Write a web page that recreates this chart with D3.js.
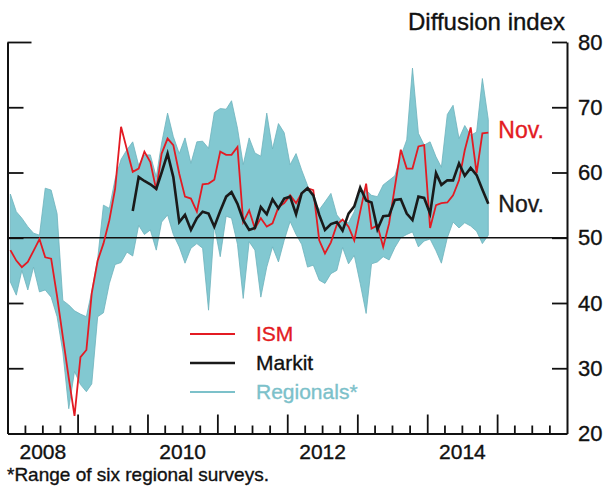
<!DOCTYPE html>
<html>
<head>
<meta charset="utf-8">
<script src="https://cdn.jsdelivr.net/npm/d3@7"></script>
<style>
  body { margin: 0; background: white; }
  text { font-family: "Liberation Sans", Arial, Helvetica, sans-serif; stroke-width: 0.35px; }
</style>
</head>
<body>
<div id="chart"></div>
<script>
const WIDTH = 604, HEIGHT = 487;
const PLOT = { LEFT: 7.5, RIGHT: 567, TOP: 42, BOTTOM: 433.5 };

// monthly data, Jan 2008 .. Nov 2014
const firstMonth = new Date(2008, 0, 1);
const lastMonth = new Date(2014, 10, 1);
const markitFirst = new Date(2009, 9, 1);

const ism = [
  48.1, 46.5, 45.5, 46.3, 48.0, 49.8, 47.0, 46.8, 41.0, 34.8, 28.5, 22.7,
  31.7, 32.8, 41.5, 46.5, 49.1, 52.7, 57.5, 67.0, 63.5, 60.1, 60.6, 63.2,
  61.6, 57.3, 62.9, 65.2, 64.2, 59.8, 56.3, 56.0, 54.0, 58.2, 58.3, 58.9,
  63.2, 62.7, 62.7, 63.9, 52.4, 54.2, 51.4, 53.0, 51.7, 52.2, 54.7, 55.3,
  56.5, 55.3, 56.8, 57.6, 57.3, 49.6, 47.6, 49.3, 52.0, 52.8, 51.7, 49.6,
  54.0, 58.3, 51.4, 51.9, 48.6, 52.2, 57.8, 63.5, 60.6, 60.6, 64.0, 64.2,
  51.5, 55.0, 55.3, 55.4, 56.5, 58.8, 63.4, 66.9, 59.9, 66.0, 66.1
];

// Oct 2009 .. Nov 2014
const markit = [
  54.1, 59.3, 58.7,
  58.2, 57.5, 60.0, 62.9, 59.3, 52.4, 53.5, 51.2, 53.0, 54.0, 53.7, 51.7,
  54.1, 56.3, 57.0, 55.2, 52.7, 51.2, 51.5, 54.7, 53.6, 55.9, 54.5, 56.0,
  56.3, 53.6, 56.8, 57.6, 56.5, 53.5, 51.2, 52.1, 52.4, 51.1, 53.7, 54.8,
  57.7, 55.7, 55.4, 51.3, 53.3, 53.4, 55.8, 55.9, 53.7, 52.7, 56.3, 56.1,
  53.7, 59.9, 58.1, 58.8, 58.8, 61.4, 59.5, 60.7, 59.6, 57.4, 55.2
];

const regionalsHigh = [
  56.7, 54.0, 53.0, 51.7, 50.7, 50.4, 57.6, 57.3, 53.7, 40.4, 39.7, 38.8,
  38.3, 37.9, 41.8, 46.8, 55.0, 54.5, 59.0, 62.0, 63.5, 64.7, 61.1, 62.7,
  62.7, 59.3, 64.5, 69.1, 65.5, 62.9, 65.3, 61.4, 64.7, 64.8, 63.7, 69.2,
  69.8, 69.7, 71.0, 66.8, 61.2, 65.3, 63.0, 62.5, 69.1, 63.6, 67.5, 66.1,
  61.2, 62.9, 60.4, 58.0, 56.0, 54.3, 55.5, 56.8, 53.5, 52.4, 52.3, 54.0,
  57.0, 57.3, 56.5, 56.3, 58.1, 58.8, 59.5, 62.5, 65.0, 76.0, 66.0, 64.2,
  64.7, 62.4, 60.8, 68.9, 70.3, 65.2, 67.2, 65.7, 66.2, 74.4, 68.1
];

const regionalsLow = [
  43.2, 41.2, 45.0, 42.0, 45.5, 41.7, 42.0, 40.9, 37.9, 32.5, 23.8, 29.5,
  27.5, 26.4, 27.6, 37.9, 38.5, 43.0, 45.9, 46.2, 47.8, 47.2, 51.9, 50.5,
  51.2, 48.1, 52.4, 53.5, 50.5, 48.6, 46.1, 48.4, 49.1, 48.4, 38.9, 51.8,
  47.1, 53.3, 53.0, 49.0, 40.7, 49.4, 48.1, 40.9, 45.5, 48.6, 46.3, 49.6,
  52.5, 50.5, 49.0, 45.5, 45.8, 43.5, 43.0, 44.5, 45.0, 48.5, 46.0, 47.3,
  43.0, 38.4, 46.0, 46.3, 47.1, 46.6, 48.5, 50.0, 50.5, 50.9, 48.6, 49.5,
  49.8, 48.0, 46.1, 50.0, 52.4, 51.5, 52.3, 51.8, 51.0, 49.1, 50.4
];

const yTicks = [20, 30, 40, 50, 60, 70, 80];
const yearLabels = [2008, 2010, 2012, 2014];

const COLORS = { ism: "#e31b23", markit: "#1a1a1a", band: "#82c8d1", bandEdge: "#6db2bc", regText: "#7cc1ca" };

const months = d3.timeMonth.range(firstMonth, d3.timeMonth.offset(lastMonth, 1));
const markitMonths = d3.timeMonth.range(markitFirst, d3.timeMonth.offset(lastMonth, 1));
const midMonth = (d) => new Date(d.getFullYear(), d.getMonth(), 16);

const data = months.map((m, i) => ({ date: midMonth(m), ism: ism[i], hi: regionalsHigh[i], lo: regionalsLow[i] }));
const markitData = markitMonths.map((m, i) => ({ date: midMonth(m), v: markit[i] }));

const svg = d3.select("#chart").append("svg")
  .attr("width", WIDTH).attr("height", HEIGHT)
  .style("background", "white");

const x = d3.scaleTime()
  .domain([new Date(2008, 0, 1), new Date(2016, 0, 1)])
  .range([PLOT.LEFT, PLOT.RIGHT]);
const y = d3.scaleLinear().domain([20, 80]).range([PLOT.BOTTOM, PLOT.TOP]);

// regional band
const area = d3.area().x((d) => x(d.date)).y0((d) => y(d.lo)).y1((d) => y(d.hi));
svg.append("path").datum(data)
  .attr("d", area)
  .attr("fill", COLORS.band)
  .attr("stroke", COLORS.bandEdge)
  .attr("stroke-width", 0.8);

// 50 line
svg.append("line")
  .attr("x1", PLOT.LEFT).attr("x2", PLOT.RIGHT)
  .attr("y1", y(50)).attr("y2", y(50))
  .attr("stroke", "#111").attr("stroke-width", 1.3);

const line = d3.line().x((d) => x(d.date));

svg.append("path").datum(data)
  .attr("d", line.y((d) => y(d.ism)))
  .attr("fill", "none").attr("stroke", COLORS.ism).attr("stroke-width", 1.8)
  .attr("stroke-linejoin", "miter");

svg.append("path").datum(markitData)
  .attr("d", line.y((d) => y(d.v)))
  .attr("fill", "none").attr("stroke", COLORS.markit).attr("stroke-width", 2.6)
  .attr("stroke-linejoin", "miter");

// axes
const quarters = d3.timeMonth.every(3).range(new Date(2008, 0, 1), new Date(2016, 0, 2));
const minorQ = quarters.filter((d) => d.getMonth() !== 0);
const years = d3.timeYear.range(new Date(2009, 0, 1), new Date(2016, 0, 1));

svg.append("g")
  .attr("transform", `translate(0, ${PLOT.BOTTOM})`)
  .call(d3.axisBottom(x).tickValues(minorQ).tickSize(-8).tickSizeOuter(0).tickFormat(""));
const bottomMajor = svg.append("g")
  .attr("transform", `translate(0, ${PLOT.BOTTOM})`)
  .call(d3.axisBottom(x).tickValues(years).tickSize(-19).tickFormat(""));
bottomMajor.select(".domain").remove();

const yearAxis = svg.append("g")
  .attr("transform", `translate(0, ${PLOT.BOTTOM})`)
  .call(d3.axisBottom(x)
    .tickValues(yearLabels.map((yr) => new Date(yr, 6, 1)))
    .tickSize(0).tickPadding(11)
    .tickFormat(d3.timeFormat("%Y")));
yearAxis.select(".domain").remove();
yearAxis.selectAll("text").attr("font-size", 21).attr("fill", "#111").attr("stroke", "#111");

const leftAxis = svg.append("g")
  .attr("transform", `translate(${PLOT.LEFT}, 0)`)
  .call(d3.axisLeft(y).tickValues(yTicks.filter((t) => t > 20)).tickSize(-16).tickSizeOuter(0).tickFormat(""));
leftAxis.selectAll(".tick line").filter((d) => d === 80).attr("x2", 24);

const rightAxis = svg.append("g")
  .attr("transform", `translate(${PLOT.RIGHT}, 0)`)
  .call(d3.axisRight(y).tickValues(yTicks).tickSize(-15).tickSizeOuter(0).tickPadding(11));
rightAxis.selectAll("text").attr("font-size", 22).attr("fill", "#111").attr("stroke", "#111");
rightAxis.selectAll(".tick").filter((d) => d === 20).select("line").remove();

svg.selectAll(".domain, .tick line").attr("stroke", "#111").attr("stroke-width", 2);
svg.selectAll(".tick line").attr("stroke-width", 1.8);

svg.append("text")
  .attr("x", 565).attr("y", 30)
  .attr("text-anchor", "end")
  .attr("font-size", 24).attr("fill", "#111").attr("stroke", "#111")
  .text("Diffusion index");

// end labels
const lastIsm = data[data.length - 1];
const lastMarkit = markitData[markitData.length - 1];
svg.append("text")
  .attr("x", x(lastIsm.date) + 10).attr("y", y(lastIsm.ism) - 3)
  .attr("dy", "0.35em").attr("font-size", 23)
  .attr("fill", COLORS.ism).attr("stroke", COLORS.ism)
  .text("Nov.");
svg.append("text")
  .attr("x", x(lastMarkit.date) + 10).attr("y", y(lastMarkit.v))
  .attr("dy", "0.35em").attr("font-size", 23)
  .attr("fill", COLORS.markit).attr("stroke", COLORS.markit)
  .text("Nov.");

// legend
const legend = [
  { label: "ISM", color: COLORS.ism, width: 2, text: COLORS.ism },
  { label: "Markit", color: COLORS.markit, width: 2.6, text: "#111" },
  { label: "Regionals*", color: COLORS.regText, width: 2, text: COLORS.regText }
];
const lg = svg.append("g").attr("transform", "translate(190, 334)");
legend.forEach((d, i) => {
  lg.append("line")
    .attr("x1", 0).attr("x2", 45)
    .attr("y1", i * 29).attr("y2", i * 29)
    .attr("stroke", d.color).attr("stroke-width", d.width);
  lg.append("text")
    .attr("x", 66).attr("y", i * 29)
    .attr("dy", "0.35em").attr("font-size", 21)
    .attr("fill", d.text).attr("stroke", d.text)
    .text(d.label);
});

svg.append("text")
  .attr("x", 7).attr("y", 481)
  .attr("font-size", 19).attr("fill", "#111").attr("stroke", "#111")
  .text("*Range of six regional surveys.");
</script>
</body>
</html>
